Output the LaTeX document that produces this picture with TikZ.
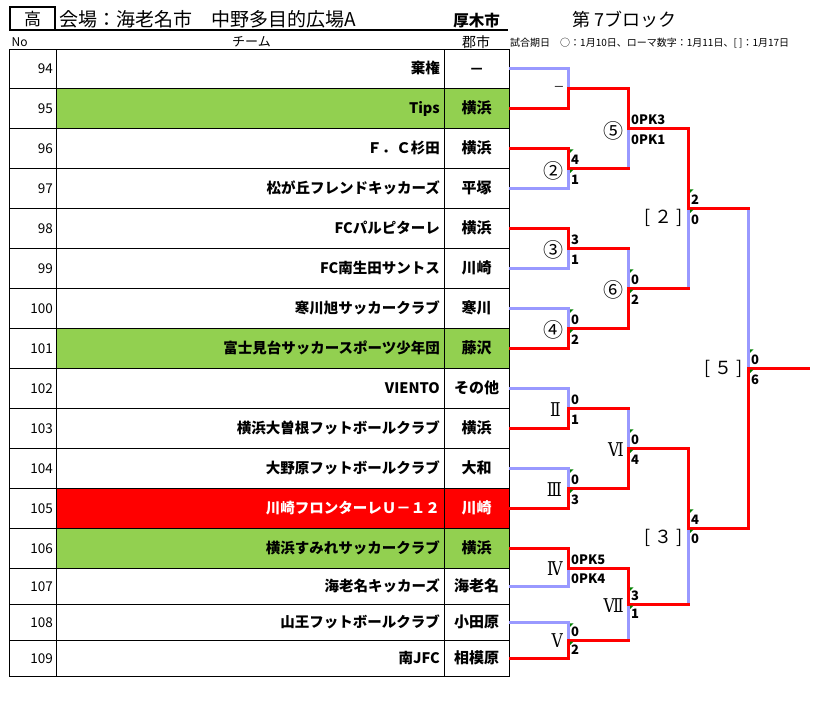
\documentclass[tikz,border=0pt]{standalone}
\usepackage{fontspec}
\setmainfont{Noto Sans CJK JP}
\newfontfamily\romfont[FakeStretch=0.82]{DejaVu Serif}
\definecolor{lgreen}{HTML}{92D050}
\definecolor{lav}{HTML}{9999FF}
\definecolor{xred}{HTML}{FF0000}
\definecolor{cgreen}{HTML}{008000}
\begin{document}
\begin{tikzpicture}[x=1pt,y=-1pt,
  win/.style={draw=xred,line width=3pt,line cap=rect},
  lose/.style={draw=lav,line width=3pt,line cap=rect},
  gridline/.style={draw=black,line width=1pt},
  team/.style={anchor=base east,inner sep=0,font=\fontsize{14.5}{16}\selectfont\bfseries},
  city/.style={anchor=base,inner sep=0,font=\fontsize{15}{16}\selectfont\bfseries},
  num/.style={anchor=base east,inner sep=0,font=\fontsize{13.5}{15}\selectfont},
  sc/.style={anchor=base west,inner sep=0,font=\fontsize{13}{14}\selectfont\bfseries},
  mlab/.style={anchor=east,inner sep=0,font=\fontsize{20}{22}\selectfont},
  rlab/.style={anchor=east,inner sep=0,font=\fontsize{19}{20}\romfont},
  blab/.style={anchor=east,inner sep=0,font=\fontsize{18}{20}\selectfont},
  flag/.style={fill=cgreen}
]
\useasboundingbox (0,0) rectangle (819,713);
\fill[white] (0,0) rectangle (819,713);

% ---------- header ----------
\draw[line width=2pt] (9.5,6.5) rectangle (55,30);
\draw[line width=1.4pt] (55,30) -- (508,30);
\node[inner sep=0,font=\fontsize{17}{18}\selectfont] (hk) at (32.5,19.5) {高};
\node[anchor=west,inner sep=0,font=\fontsize{19}{20}\selectfont] (venue) at (59,19.5) {会場：海老名市　中野多目的広場A};
\node[inner sep=0,font=\fontsize{15.5}{17}\selectfont\bfseries] (host) at (476.5,20.5) {厚木市};
\node[anchor=west,inner sep=0,font=\fontsize{18}{20}\selectfont] (block) at (572,20) {第 7ブロック};
\node[anchor=west,inner sep=0,font=\fontsize{12}{13}\selectfont] (hno) at (11.5,42.5) {No};
\node[inner sep=0,font=\fontsize{13}{14}\selectfont] (hteam) at (251.5,42) {チーム};
\node[inner sep=0,font=\fontsize{14}{15}\selectfont] (hcity) at (476,42) {郡市};
\node[anchor=west,inner sep=0,font=\fontsize{10}{11}\selectfont] (info) at (510,42.7) {試合期日　○：1月10日、ローマ数字：1月11日、[ ]：1月17日};

% ---------- table ----------
\fill[lgreen] (56.7,88.3) rectangle (509,128.3);
\fill[lgreen] (56.7,328.3) rectangle (509,368.3);
\fill[xred] (56.7,488.3) rectangle (509,528.3);
\fill[lgreen] (56.7,528.3) rectangle (509,568.3);
\draw[gridline] (9.5,49.3) rectangle (509,676.3);
\draw[gridline] (56.7,49.3) -- (56.7,676.3);
\draw[gridline] (444.3,49.3) -- (444.3,676.3);
\foreach \yy in {88.3,128.3,168.3,208.3,248.3,288.3,328.3,368.3,408.3,448.3,488.3,528.3,568.3,604.3,640.3}
  \draw[gridline] (9.5,\yy) -- (509,\yy);

\foreach \no/\yc/\tm/\ct/\tc in {
  94/68.3/棄権/\scalebox{1.6}[1]{–}/black,
  95/108.3/Tips/横浜/black,
  96/148.3/Ｆ．Ｃ杉田/横浜/black,
  97/188.3/松が丘フレンドキッカーズ/平塚/black,
  98/228.3/FCパルピターレ/横浜/black,
  99/268.3/FC南生田サントス/川崎/black,
  100/308.3/寒川旭サッカークラブ/寒川/black,
  101/348.3/富士見台サッカースポーツ少年団/藤沢/black,
  102/388.3/VIENTO/その他/black,
  103/428.3/横浜大曽根フットボールクラブ/横浜/black,
  104/468.3/大野原フットボールクラブ/大和/black,
  105/508.3/川崎フロンターレＵ－１２/川崎/white,
  106/548.3/横浜すみれサッカークラブ/横浜/black,
  107/586.3/海老名キッカーズ/海老名/black,
  108/622.3/山王フットボールクラブ/小田原/black,
  109/658.3/南JFC/相模原/black}{
  \node[num] (no\no) at (53,\yc+5) {\no};
  \node[team,text=\tc] (tm\no) at (440,\yc+5.3) {\tm};
  \node[city,text=\tc] (ct\no) at (476.7,\yc+5.3) {\ct};
  \coordinate (e\no) at (510,\yc);
}

% ---------- bracket points ----------
\coordinate (m1) at (568.5,88.3);
\coordinate (m2) at (568.5,168.3);
\coordinate (m3) at (568.5,248.3);
\coordinate (m4) at (568.5,328.3);
\coordinate (m5) at (628.5,128.3);
\coordinate (m6) at (628.5,288.3);
\coordinate (m7) at (688.5,208.3);
\coordinate (n1) at (568.5,408.3);
\coordinate (n2) at (568.5,488.3);
\coordinate (n3) at (568.5,568.3);
\coordinate (n4) at (568.5,640.3);
\coordinate (n5) at (628.5,448.3);
\coordinate (n6) at (628.5,604.3);
\coordinate (n7) at (688.5,528.3);
\coordinate (fin) at (748.5,368.3);
\coordinate (out) at (808.5,368.3);

% losers
\draw[lose] (e94) -| (m1);
\draw[lose] (e97) -| (m2);
\draw[lose] (e99) -| (m3);
\draw[lose] (e100) -| (m4);
\draw[lose] (e102) -| (n1);
\draw[lose] (e104) -| (n2);
\draw[lose] (e107) -| (n3);
\draw[lose] (e108) -| (n4);
\draw[lose] (m2 -| m5) -- (m5);
\draw[lose] (m3 -| m6) -- (m6);
\draw[lose] (m6 -| m7) -- (m7);
\draw[lose] (m7 -| fin) -- (fin);
\draw[lose] (n1 -| n5) -- (n5);
\draw[lose] (n4 -| n6) -- (n6);
\draw[lose] (n6 -| n7) -- (n7);

% winners
\draw[win] (e95) -| (m1);
\draw[win] (e96) -| (m2);
\draw[win] (e98) -| (m3);
\draw[win] (e101) -| (m4);
\draw[win] (e103) -| (n1);
\draw[win] (e105) -| (n2);
\draw[win] (e106) -| (n3);
\draw[win] (e109) -| (n4);
\draw[win] (m1) -- (m1 -| m5) -- (m5);
\draw[win] (m2) -- (m2 -| m5);
\draw[win] (m3) -- (m3 -| m6);
\draw[win] (m4) -- (m4 -| m6) -- (m6);
\draw[win] (m5) -- (m5 -| m7) -- (m7);
\draw[win] (m6) -- (m6 -| m7);
\draw[win] (m7) -- (m7 -| fin);
\draw[win] (n1) -- (n1 -| n5);
\draw[win] (n2) -- (n2 -| n5) -- (n5);
\draw[win] (n3) -- (n3 -| n6) -- (n6);
\draw[win] (n4) -- (n4 -| n6);
\draw[win] (n5) -- (n5 -| n7) -- (n7);
\draw[win] (n6) -- (n6 -| n7);
\draw[win] (n7) -- (n7 -| fin) -- (fin);
\draw[win] (fin) -- (out);

% ---------- comment flags ----------
\foreach \fx/\fy in {570/149.3,570/169.6,690/189.3,690/209.6,630/269.3,630/289.6,
  570/309.3,570/329.6,750/349.3,750/369.6,630/429.3,630/449.6,570/469.3,570/489.6,
  690/509.3,690/529.6,630/587.3,630/605.6,570/623.3,570/641.6}
  \fill[flag] (\fx,\fy) -- ++(3.5,0) -- ++(-3.5,3.5) -- cycle;

% ---------- match labels ----------
\node[inner sep=0,anchor=east,font=\fontsize{13}{14}\selectfont] (l1) at (564,88.3) {\scalebox{1.4}[1]{–}};
\node[mlab] (l2) at (564,170.5) {②};
\node[mlab] (l3) at (564,249.5) {③};
\node[mlab] (l4) at (564,329.5) {④};
\node[mlab] (l5) at (624,130.5) {⑤};
\node[mlab] (l6) at (624,289.7) {⑥};
\node[blab] (l7) at (683,218.3) {[ ２ ]};
\node[rlab] (k1) at (561,410) {Ⅱ};
\node[rlab] (k2) at (562,490) {Ⅲ};
\node[rlab] (k3) at (563,569) {Ⅳ};
\node[rlab] (k4) at (563,640.5) {Ⅴ};
\node[rlab] (k5) at (624,449.5) {Ⅵ};
\node[rlab] (k6) at (624,605.7) {Ⅶ};
\node[blab] (k7) at (683,538) {[ ３ ]};
\node[blab] (kf) at (743,369.3) {[ ５ ]};

% ---------- scores ----------
\node[sc] (s2a) at ([xshift=2.5pt,yshift=3.8pt]m2) {4};
\node[sc] (s2b) at ([xshift=2.5pt,yshift=-16.3pt]m2) {1};
\node[sc] (s3a) at ([xshift=2.5pt,yshift=3.8pt]m3) {3};
\node[sc] (s3b) at ([xshift=2.5pt,yshift=-16.3pt]m3) {1};
\node[sc] (s4a) at ([xshift=2.5pt,yshift=3.8pt]m4) {0};
\node[sc] (s4b) at ([xshift=2.5pt,yshift=-16.3pt]m4) {2};
\node[sc] (s5a) at ([xshift=2.5pt,yshift=3.8pt]m5) {0PK3};
\node[sc] (s5b) at ([xshift=2.5pt,yshift=-16.3pt]m5) {0PK1};
\node[sc] (s6a) at ([xshift=2.5pt,yshift=3.8pt]m6) {0};
\node[sc] (s6b) at ([xshift=2.5pt,yshift=-16.3pt]m6) {2};
\node[sc] (s7a) at ([xshift=2.5pt,yshift=3.8pt]m7) {2};
\node[sc] (s7b) at ([xshift=2.5pt,yshift=-16.3pt]m7) {0};
\node[sc] (t1a) at ([xshift=2.5pt,yshift=3.8pt]n1) {0};
\node[sc] (t1b) at ([xshift=2.5pt,yshift=-16.3pt]n1) {1};
\node[sc] (t2a) at ([xshift=2.5pt,yshift=3.8pt]n2) {0};
\node[sc] (t2b) at ([xshift=2.5pt,yshift=-16.3pt]n2) {3};
\node[sc] (t3a) at ([xshift=2.5pt,yshift=4.3pt]n3) {0PK5};
\node[sc] (t3b) at ([xshift=2.5pt,yshift=-15.5pt]n3) {0PK4};
\node[sc] (t4a) at ([xshift=2.5pt,yshift=4.2pt]n4) {0};
\node[sc] (t4b) at ([xshift=2.5pt,yshift=-13.8pt]n4) {2};
\node[sc] (t5a) at ([xshift=2.5pt,yshift=3.8pt]n5) {0};
\node[sc] (t5b) at ([xshift=2.5pt,yshift=-16.3pt]n5) {4};
\node[sc] (t6a) at ([xshift=2.5pt,yshift=4.2pt]n6) {3};
\node[sc] (t6b) at ([xshift=2.5pt,yshift=-13.8pt]n6) {1};
\node[sc] (t7a) at ([xshift=2.5pt,yshift=4.2pt]n7) {4};
\node[sc] (t7b) at ([xshift=2.5pt,yshift=-14.8pt]n7) {0};
\node[sc] (sfa) at ([xshift=2.5pt,yshift=4.2pt]fin) {0};
\node[sc] (sfb) at ([xshift=2.5pt,yshift=-15.7pt]fin) {6};
\end{tikzpicture}
\end{document}
